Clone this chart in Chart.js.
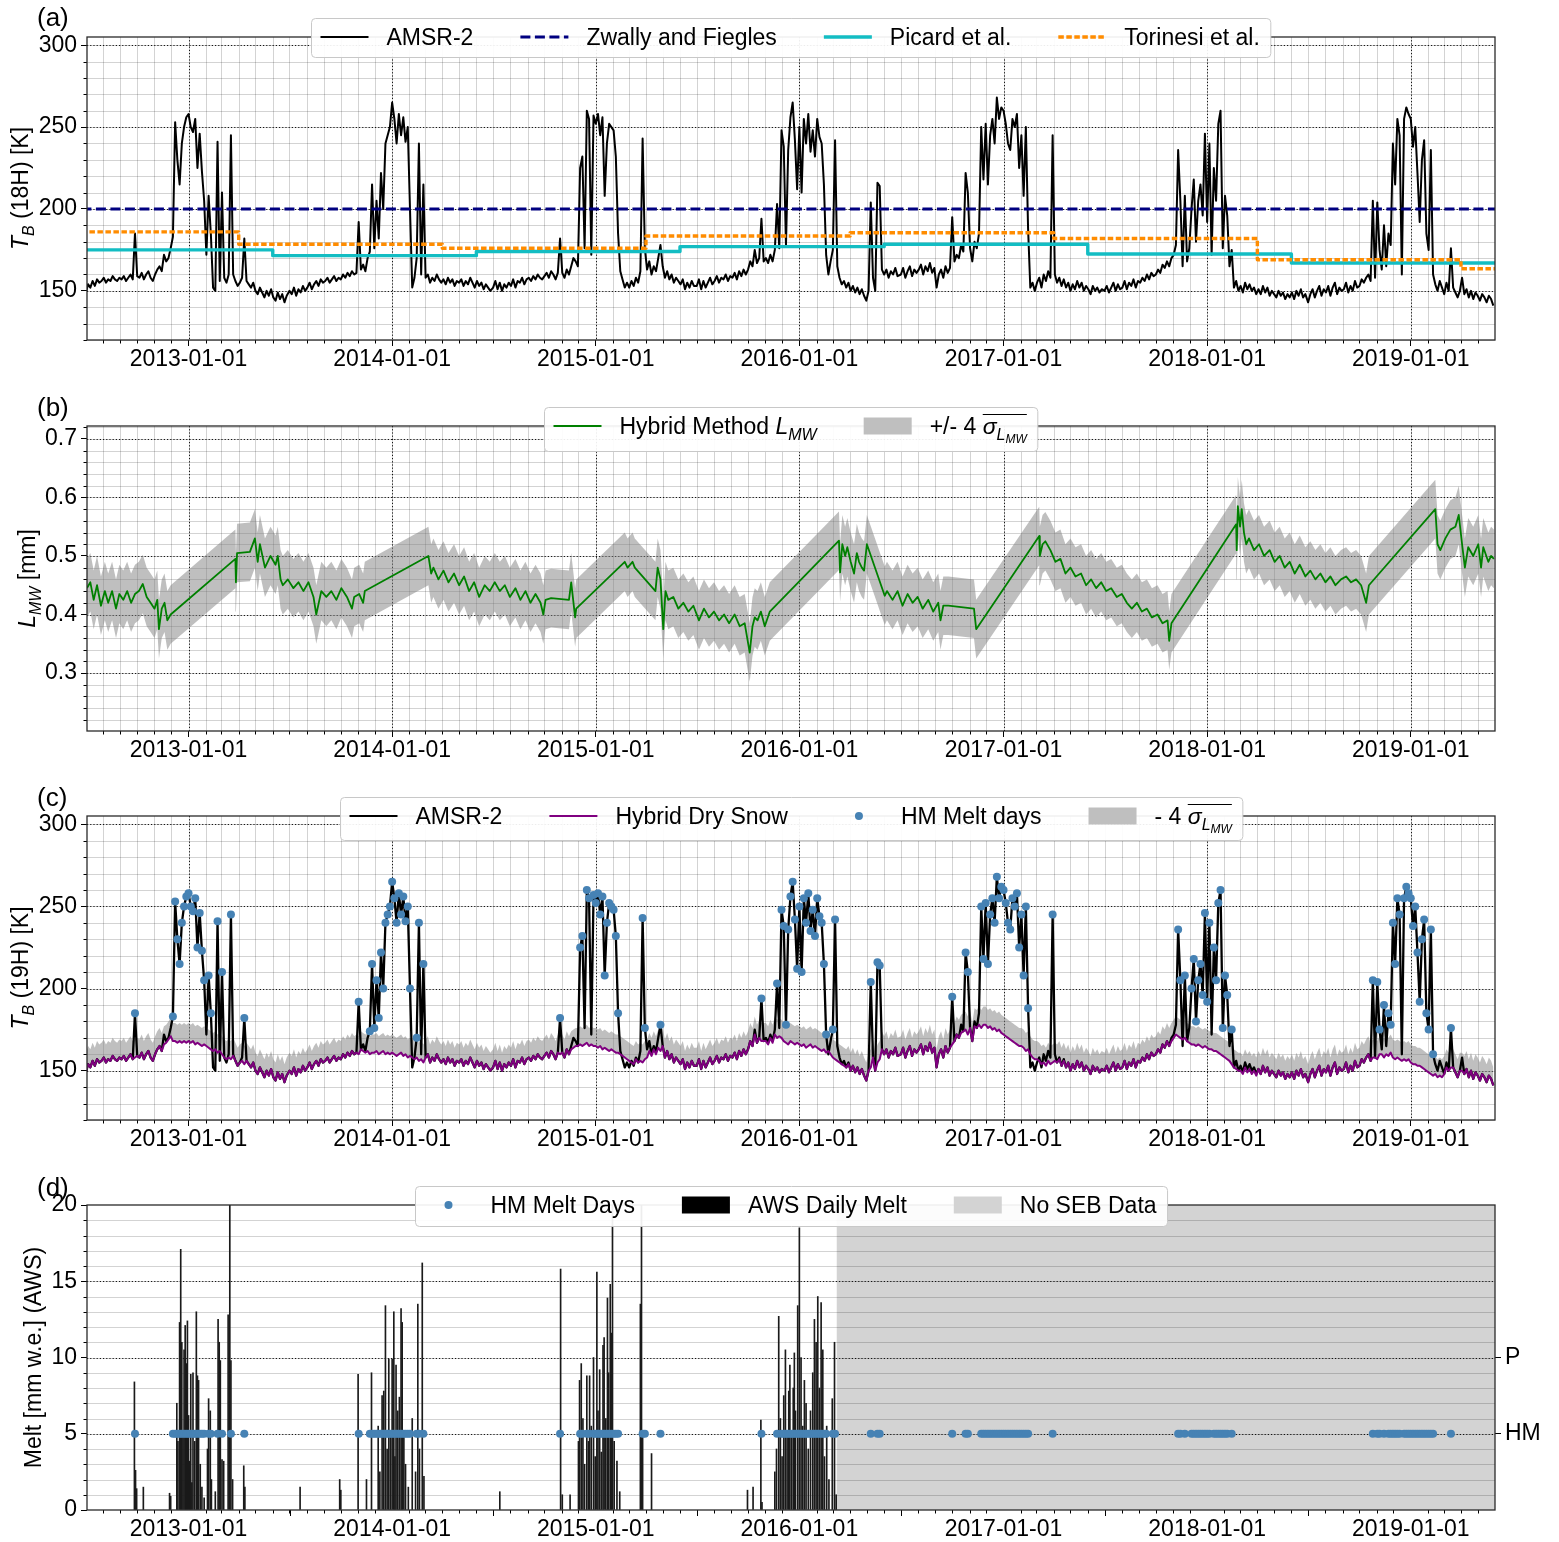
<!DOCTYPE html>
<html>
<head>
<meta charset="utf-8">
<title>AMSR-2 melt detection</title>
<script src="https://cdn.jsdelivr.net/npm/chart.js@4.4.1/dist/chart.umd.min.js"></script>
<style>
  html, body { margin: 0; padding: 0; background: #fff; }
  #wrap { position: relative; width: 1559px; height: 1542px; }
  canvas { position: absolute; left: 0; }
</style>
</head>
<body>
<div id="wrap">
  <canvas id="panelA" width="1559" height="390" style="top:0px"></canvas>
  <canvas id="panelB" width="1559" height="390" style="top:390px"></canvas>
  <canvas id="panelC" width="1559" height="390" style="top:780px"></canvas>
  <canvas id="panelD" width="1559" height="372" style="top:1170px"></canvas>
</div>
<script>
// all x values are days counted from 2012-07-01
const dayZero = Date.UTC(2012, 6, 1);
function dayOf(iso) { return Math.round((Date.parse(iso) - dayZero) / 864e5); }
function isoOf(d) { return new Date(dayZero + d * 864e5).toISOString().slice(0, 10); }

const xFrom = 2, xTo = 2526;
const yearTicks = ['2013-01-01', '2014-01-01', '2015-01-01', '2016-01-01', '2017-01-01', '2018-01-01', '2019-01-01'];
const tbTicks = [150, 200, 250, 300];
const lmwTicks = [0.3, 0.4, 0.5, 0.6, 0.7];
const meltTicks = [0, 5, 10, 15, 20];
const rightTicks = [5, 10];
const rightLabels = ['HM', 'P'];

// AMSR-2 brightness temperature, one value every 4 days, one array per Jul-Jun season
const seasonStart = ['2012-07-01', '2013-07-01', '2014-07-01', '2015-07-01', '2016-07-01', '2017-07-01', '2018-07-01'];
const tbStep = 4;
const tb1213 = [149,154,152,156,153,157,155,156, 158,155,157,156,159,157,156,158, 157,159,156,158,160,157,185,
  159,158,161,157,160,162,158,156, 160,163,165,162,172,168,170, 176,183,253,230,215,240,250,256,
  258,250,247,255,225,246,223,205, 172,208,185,152,150,241,156, 210,158,155,160,245,160,156,153,
  155,158,182,156,154,152,155, 150,148,152,149,146,150,147,151, 146,144,149,145,148,143,147];
const tb1314 = [150,148,152,147,151,149,153,150, 152,155,151,154,156,153,157,155, 156,158,155,157,159,156,158,
  157,160,158,161,159,162,160,161, 192,163,166,162,170,174,215, 176,205,182,222,200,240,245,250,
  265,255,240,258,245,256,241,250, 200,152,158,170,240,160,215, 158,160,155,158,156,160,157,155,
  157,154,158,155,157,153,156, 155,157,153,156,154,158,155,152, 156,153,155,151,154,152,150];
const tb1415 = [152,156,151,155,150,154,152,155, 153,157,152,156,155,158,154,157, 158,156,159,157,160,158,157,
  159,161,158,162,160,157,161,182, 161,158,163,160,165,170,168, 165,225,232,176,260,255,172,257,
  252,258,245,256,208,240,252,250, 248,232,185,162,157,152,155, 152,156,153,158,155,162,243,176,
  163,168,160,165,162,170,178, 165,158,162,157,160,155,158,156, 154,157,151,155,152,156,153];
const tb1516 = [153,157,151,156,152,155,158,154, 156,159,155,158,157,160,156,159, 158,161,157,162,159,163,160,
  163,168,165,175,167,170,194,168, 170,167,172,168,175,203,176, 248,238,178,236,256,265,242,212,
  250,210,255,240,258,235,248,232, 255,244,240,215,172,160,168, 175,242,165,158,154,156,152,155,
  150,153,149,152,148,151,147, 144,150,204,158,150,216,214,163, 160,163,158,162,160,164,159];
const tb1617 = [160,164,158,162,165,159,163,161, 163,166,160,165,162,167,161,164, 152,160,163,158,165,161,164,
  195,168,172,170,178,174,222,210, 176,168,180,176,185,250,218, 252,215,245,255,240,268,255,262,
  260,252,240,236,255,250,258,225, 245,208,250,188,152,155,150, 155,158,152,160,156,162,158,245,
  160,155,158,153,157,152,155, 150,154,151,156,152,155,150,153, 151,148,153,150,152,149,151];
const tb1718 = [150,153,149,152,155,150,154,151, 152,156,151,155,153,157,152,156, 155,158,156,160,157,161,159,
  160,163,161,166,164,168,165,170, 172,178,236,205,165,208,168, 176,200,218,180,205,215,196,246,
  192,240,172,225,205,252,260,176, 208,196,165,175,152,156,150, 153,149,155,151,154,150,152,148,
  151,148,153,149,152,147,150, 148,146,150,147,149,145,148,146, 149,145,150,147,151,146,148];
const tb1819 = [143,148,151,146,150,153,147,151, 149,153,147,152,155,148,152,150, 151,155,149,153,150,156,152,
  153,157,155,158,160,156,205,158, 204,175,163,190,165,185,178, 240,215,255,245,160,255,262,258,
  255,238,250,222,192,230,242,185, 175,236,160,154,150,156,152, 148,155,150,176,152,149,146,150,
  158,148,151,146,150,145,149, 147,144,148,146,143,147,145,141];

// Hybrid dry-snow brightness temperature on the same days
const dry1213 = [149,154,152,156,153,157,155,156, 158,155,157,156,159,157,156,158, 157,159,156,158,160,157,158,
  159,158,161,157,160,162,158,156, 160,163,165,162,166,167,169, 171,168,168,167,168,167,168,167,
  168,167,168,166,167,166,165,166, 165,164,163,162,163,161,162, 160,158,157,158,157,159,156,153,
  155,156,154,156,154,152,155, 150,148,152,149,146,150,147,151, 146,144,149,145,148,143,147];
const dry1314 = [150,148,152,147,151,149,153,150, 152,155,151,154,156,153,157,155, 156,158,155,157,159,156,158,
  157,160,158,161,159,162,160,161, 160,163,162,161,162,160,161, 161,162,160,161,162,160,161,160,
  161,160,159,160,161,159,160,158, 159,158,157,158,156,157,155, 158,160,155,158,156,160,157,155,
  157,154,158,155,157,153,156, 155,157,153,156,154,158,155,152, 156,153,155,151,154,152,150];
const dry1415 = [152,156,151,155,150,154,152,155, 153,157,152,156,155,158,154,157, 158,156,159,157,160,158,157,
  159,161,158,162,160,157,161,160, 161,158,163,160,163,164,165, 165,166,165,166,167,165,166,165,
  165,164,165,163,164,163,162,163, 162,161,161,160,159,158,157, 156,155,154,157,155,156,155,157,
  158,162,159,163,160,164,162, 165,158,162,157,160,155,158,156, 154,157,151,155,152,156,153];
const dry1516 = [153,157,151,156,152,155,158,154, 156,159,155,158,157,160,156,159, 158,161,157,162,159,163,160,
  163,168,165,172,167,170,168,168, 168,166,170,167,172,170,171, 170,168,167,166,168,167,166,167,
  166,165,166,164,165,166,164,165, 164,163,162,163,161,162,160, 158,157,156,155,154,153,152,154,
  150,153,149,152,148,151,147, 144,150,152,158,150,155,157,163, 160,163,158,162,160,164,159];
const dry1617 = [160,164,158,162,165,159,163,161, 163,166,160,165,162,167,161,164, 152,160,163,158,165,161,164,
  166,168,172,170,173,174,175,172, 176,168,177,176,178,176,178, 178,176,177,175,176,174,175,173,
  172,171,170,169,168,167,166,165, 165,164,162,163,160,158,157, 157,156,154,155,153,156,154,155,
  156,155,157,153,156,152,155, 150,154,151,156,152,155,150,153, 151,148,153,150,152,149,151];
const dry1718 = [150,153,149,152,155,150,154,151, 152,156,151,155,153,157,152,156, 155,158,156,160,157,161,159,
  160,163,161,166,164,168,165,168, 170,172,171,170,169,170,168, 167,166,166,165,166,165,164,165,
  164,163,163,162,162,161,160,159, 158,157,156,154,152,151,150, 150,148,152,149,151,148,150,147,
  151,148,153,149,152,147,150, 148,146,150,147,149,145,148,146, 149,145,150,147,151,146,148];
const dry1819 = [143,148,151,146,150,153,147,151, 149,153,147,152,155,148,152,150, 151,155,149,153,150,156,152,
  153,157,155,158,160,156,158,158, 157,160,160,158,160,159,161, 158,157,158,157,156,157,156,157,
  155,154,154,153,153,152,151,150, 149,148,147,148,146,147,146, 148,152,150,152,152,149,146,150,
  150,148,151,146,150,145,149, 147,144,148,146,143,147,145,141];
const sigma4Tb = 11;   // K, 4 x mean sigma in brightness temperature

// threshold methods of panel (a)
const zwallyLevel = 200;
const picardSteps = ['2013-06-01', '2014-06-01', '2015-06-01', '2016-06-01', '2017-06-01', '2018-06-01'];
const picardLevels = [175, 171.5, 174, 177, 178.5, 172.5, 167];
const torinesiSteps = ['2013-04-01', '2014-04-01', '2015-04-01', '2016-04-01', '2017-04-01', '2018-04-01', '2019-04-01'];
const torinesiLevels = [186, 178.5, 176, 183.5, 185.5, 182, 169, 163.5];

// Hybrid Method L_MW [mm]
const lmwDays = [
  2,8,14,20,27,34,40,47,54,60,67,74,81,88,95,102,109,116,123,128,131,136,141,146,152,
  268,269,271,294,303,308,312,321,331,340,344,349,353,362,372,381,390,399,408,413,422,431,440,449,458,468,477,481,490,497,500,
  614,619,623,632,641,650,660,669,678,687,696,705,715,724,733,742,751,760,770,779,788,797,806,815,820,824,834,866,870,877,879,
  966,971,980,984,1021,1025,1030,1035,1039,1044,1053,1062,1071,1080,1089,1099,1108,1117,1126,1135,1144,1153,1163,1172,1181,1190,1195,1199,1204,1210,1217,1226,
  1350,1352,1356,1361,1365,1371,1377,1382,1386,1391,1395,1400,1432,1436,1446,1455,1464,1473,1482,1491,1500,1510,1519,1528,1532,1537,1546,1592,1596,
  1709,1710,1715,1720,1729,1738,1747,1756,1765,1774,1784,1793,1802,1811,1820,1829,1838,1848,1857,1866,1875,1884,1893,1902,1911,1921,1930,1939,1942,1946,
  2062,2063,2065,2069,2072,2076,2080,2085,2094,2103,2112,2122,2131,2140,2149,2158,2167,2176,2186,2195,2204,2213,2222,2231,2240,2250,2259,2268,2277,2286,2295,2300,
  2419,2423,2428,2437,2446,2455,2461,2467,2472,2478,2487,2496,2501,2505,2514,2519,2524];
const lmwVals = [
  .445,.455,.425,.45,.415,.44,.42,.44,.41,.435,.425,.44,.42,.435,.44,.452,.43,.42,.41,.425,.375,.41,.42,.39,.40,
  .495,.455,.505,.507,.53,.49,.52,.48,.50,.485,.50,.46,.45,.46,.445,.455,.44,.455,.43,.40,.44,.43,.44,.425,.445,.43,.41,.43,.435,.42,.44,
  .50,.47,.48,.46,.475,.455,.47,.45,.465,.44,.455,.43,.45,.44,.455,.44,.45,.43,.445,.425,.44,.42,.435,.42,.40,.425,.428,.425,.455,.395,.41,
  .49,.48,.49,.48,.44,.48,.46,.375,.44,.425,.43,.41,.42,.405,.415,.39,.41,.395,.405,.39,.40,.385,.40,.38,.385,.335,.38,.395,.39,.405,.38,.405,
  .526,.472,.52,.50,.515,.49,.47,.505,.49,.48,.475,.52,.432,.44,.425,.44,.415,.435,.42,.43,.41,.425,.405,.42,.39,.415,.415,.41,.375,
  .534,.50,.52,.525,.51,.49,.495,.47,.48,.465,.47,.45,.46,.445,.455,.44,.445,.43,.435,.42,.41,.42,.405,.41,.395,.40,.385,.39,.355,.385,
  .554,.51,.585,.55,.58,.54,.52,.53,.51,.52,.50,.51,.49,.50,.48,.49,.47,.485,.465,.475,.46,.47,.455,.465,.45,.46,.465,.455,.46,.45,.42,.45,
  .58,.52,.51,.53,.545,.55,.57,.52,.48,.515,.50,.52,.48,.515,.49,.50,.495];
const sigma4Lmw = 0.05;

// AWS daily melt [mm w.e.]
const awsDays = [
  87,89,91,103,150,152,163,165,168,170,172,174,176,178,180,182,184,186,188,190,192,195,198,200,202,205,208,212,218,220,223,225,232,237,239,241,244,247,255,258,260,263,283,285,
  384,455,457,488,503,512,524,527,531,534,537,540,543,546,549,552,554,556,559,562,565,567,570,573,578,585,591,595,598,603,606,
  742,851,854,868,883,885,888,891,894,898,901,903,906,910,913,916,918,921,924,927,929,932,935,937,940,942,944,947,952,957,994,996,998,1014,
  1186,1196,1210,1212,1235,1238,1242,1245,1248,1251,1254,1257,1260,1262,1265,1268,1270,1272,1276,1279,1282,1285,1288,1291,1295,1299,1303,1306,1309,1312,1315,1318,1321,1324,1328,1332,1338,1342,1345];
const awsMelt = [
  8.4,2.6,1.4,1.5,1.1,0.9,7.0,4.5,12.3,17.1,11.0,5.0,10.5,12.1,9.6,12.4,6.2,3.2,8.9,1.8,9.0,4.5,13.0,8.8,8.5,3.0,1.5,0.8,4.0,7.3,6.5,2.0,1.2,12.5,11.0,9.8,3.3,3.2,12.8,20,9.8,2.0,2.9,1.5,
  1.5,2.0,1.3,8.9,2.0,9.0,5.5,2.5,7.5,7.8,13.4,4.0,9.9,5.2,9.9,13.0,3.5,9.5,6.5,7.4,13.2,12.3,5.0,3.0,1.5,6.0,2.5,13.5,4.0,16.2,2.2,
  1.2,15.8,1.0,1.0,4.5,8.5,9.6,6.0,3.0,8.8,4.5,8.8,5.5,10.0,3.5,15.6,6.5,9.2,3.8,10.8,11.3,6.0,13.9,9.0,14.8,11.6,20,4.5,3.2,1.2,13.5,20,5.0,3.7,
  1.3,1.5,5.9,0.5,2.5,4.0,12.7,6.0,3.5,7.5,10.5,5.0,7.8,9.5,4.8,8.0,10.3,6.5,13.4,18.5,10.0,5.5,8.5,7.0,4.0,6.5,9.0,12.5,11.0,14.0,8.0,13.6,10.5,3.5,5.5,2.0,7.3,11.0,1.0];
const noSebFrom = '2016-03-08';
const hmLevel = 5;

// ---- build point lists ----
const tbSeasons = [tb1213, tb1314, tb1415, tb1516, tb1617, tb1718, tb1819];
const drySeasons = [dry1213, dry1314, dry1415, dry1516, dry1617, dry1718, dry1819];
const tbPts = [], dryPts = [], meltDays = [], meltTb = [];
seasonStart.forEach((s, i) => {
  const d0 = dayOf(s);
  tbSeasons[i].forEach((v, k) => {
    const x = d0 + tbStep * k, dv = drySeasons[i][k];
    tbPts.push({x, y: v});
    dryPts.push({x, y: dv});
    if (v - dv >= sigma4Tb) { meltDays.push(x); meltTb.push(v); }
  });
});
function stepPts(changes, levels) {
  const pts = [{x: xFrom - 10, y: levels[0]}];
  changes.forEach((c, i) => pts.push({x: dayOf(c), y: levels[i + 1]}));
  pts.push({x: xTo + 10, y: levels[levels.length - 1]});
  return pts;
}
const copy = a => a.map(p => ({x: p.x, y: p.y}));

const yearDays = yearTicks.map(dayOf);
const monthDays = [];
for (let yr = 2012; yr <= 2019; yr++) for (let m = 0; m < 12; m++) {
  const d = Math.round((Date.UTC(yr, m, 1) - dayZero) / 864e5);
  if (d > xFrom && d < xTo) monthDays.push(d);
}
const range = (a, b, s) => { const r = []; for (let i = 0; a + i * s <= b + 1e-9; i++) r.push(+(a + i * s).toFixed(2)); return r; };

// ---- drawing helpers ----
const FONT = "'Liberation Sans', Arial, Helvetica, sans-serif";
const BLUE = '#4682b4', CYAN = '#13bdc3', BAND = 'rgba(128,128,128,0.5)';
Chart.defaults.font.family = FONT;

function partFont(pt) {
  const size = pt.sub === 2 ? 12 : pt.sub ? 16 : 23;
  return (pt.i ? 'italic ' : '') + size + 'px ' + FONT;
}
function richWidth(ctx, parts) {
  return parts.reduce((w, pt) => { ctx.font = partFont(pt); return w + ctx.measureText(pt.t).width; }, 0);
}
function drawRich(ctx, parts, x, base) {
  let o0 = null, o1 = null;
  parts.forEach(pt => {
    ctx.font = partFont(pt);
    const dy = pt.sub === 2 ? 9 : pt.sub ? 6 : 0;
    ctx.fillText(pt.t, x, base + dy);
    const w = ctx.measureText(pt.t).width;
    if (pt.over) { if (o0 === null) o0 = x; o1 = x + w; }
    x += w;
  });
  if (o0 !== null) {
    ctx.beginPath(); ctx.lineWidth = 1.2; ctx.strokeStyle = '#000';
    ctx.moveTo(o0, base - 19.5); ctx.lineTo(o1, base - 19.5); ctx.stroke();
  }
}
function drawHandle(ctx, h, x, cy) {
  ctx.save();
  if (h.kind === 'line') {
    ctx.strokeStyle = h.color; ctx.lineWidth = h.width; ctx.setLineDash(h.dash || []);
    ctx.beginPath(); ctx.moveTo(x, cy); ctx.lineTo(x + 48, cy); ctx.stroke();
  } else if (h.kind === 'dot') {
    ctx.fillStyle = h.color; ctx.beginPath(); ctx.arc(x + 24, cy, 4, 0, 2 * Math.PI); ctx.fill();
  } else {
    ctx.fillStyle = h.color; ctx.fillRect(x, cy - 8.5, 48, 17);
  }
  ctx.restore();
}
function drawLegend(ctx, items, cx, top, h) {
  const widths = items.map(it => richWidth(ctx, it.label));
  const total = 20 + items.reduce((s, it, i) => s + 66 + widths[i], 0) + 47 * (items.length - 1);
  const left = Math.round(cx - total / 2) + 0.5;
  ctx.save();
  ctx.fillStyle = 'rgba(255,255,255,0.92)'; ctx.strokeStyle = '#c8c8c8'; ctx.lineWidth = 1;
  ctx.beginPath();
  if (ctx.roundRect) ctx.roundRect(left, top + 0.5, total, h, 4); else ctx.rect(left, top + 0.5, total, h);
  ctx.fill(); ctx.stroke();
  const cy = top + 19;
  let hx = left + 9;
  ctx.textAlign = 'left'; ctx.textBaseline = 'alphabetic';
  items.forEach((it, i) => {
    drawHandle(ctx, it, hx, cy);
    ctx.fillStyle = '#000';
    drawRich(ctx, it.label, hx + 66, cy + 8);
    hx += 66 + widths[i] + 47;
  });
  ctx.restore();
}
function drawRotated(ctx, parts, cx, cy) {
  const w = richWidth(ctx, parts);
  ctx.save();
  ctx.translate(cx, cy); ctx.rotate(-Math.PI / 2);
  ctx.fillStyle = '#000'; ctx.textAlign = 'left'; ctx.textBaseline = 'alphabetic';
  drawRich(ctx, parts, -w / 2, 8);
  ctx.restore();
}

function decor(p) {
  return {
    id: 'decor',
    beforeDatasetsDraw(chart) {
      const {ctx, chartArea: a} = chart, x = chart.scales.x, y = chart.scales.y;
      ctx.save();
      if (p.span) {
        const x0 = x.getPixelForValue(dayOf(p.span));
        ctx.fillStyle = '#d3d3d3';
        ctx.fillRect(x0, a.top, a.right - x0, a.bottom - a.top);
      }
      ctx.lineWidth = 0.8; ctx.strokeStyle = 'rgba(0,0,0,0.22)';
      ctx.beginPath();
      if (p.vgrid) monthDays.forEach(d => {
        const px = Math.round(x.getPixelForValue(d)) + 0.5;
        ctx.moveTo(px, a.top); ctx.lineTo(px, a.bottom);
      });
      p.yMinor.forEach(v => {
        const py = Math.round(y.getPixelForValue(v)) + 0.5;
        ctx.moveTo(a.left, py); ctx.lineTo(a.right, py);
      });
      ctx.stroke();
      ctx.strokeStyle = '#000'; ctx.lineWidth = 0.9; ctx.setLineDash([1.2, 2]);
      ctx.beginPath();
      if (p.vgrid) yearDays.forEach(d => {
        const px = Math.round(x.getPixelForValue(d)) + 0.5;
        ctx.moveTo(px, a.top); ctx.lineTo(px, a.bottom);
      });
      p.yMajor.forEach(v => {
        const py = Math.round(y.getPixelForValue(v)) + 0.5;
        if (py > a.top + 2 && py < a.bottom - 2) { ctx.moveTo(a.left, py); ctx.lineTo(a.right, py); }
      });
      ctx.stroke();
      ctx.restore();
    },
    afterDraw(chart) {
      const {ctx, chartArea: a} = chart, x = chart.scales.x, y = chart.scales.y;
      ctx.save();
      ctx.strokeStyle = '#000'; ctx.lineWidth = 1;
      ctx.beginPath();
      monthDays.forEach(d => {
        if (yearDays.includes(d)) return;
        const px = Math.round(x.getPixelForValue(d)) + 0.5;
        ctx.moveTo(px, a.bottom); ctx.lineTo(px, a.bottom + 3.5);
      });
      p.yMinor.forEach(v => {
        if (p.yMajor.includes(v)) return;
        const py = Math.round(y.getPixelForValue(v)) + 0.5;
        ctx.moveTo(a.left, py); ctx.lineTo(a.left - 3.5, py);
      });
      ctx.stroke();
      ctx.strokeStyle = '#2a2a2a'; ctx.lineWidth = 1.3;
      ctx.strokeRect(a.left, a.top, a.right - a.left, a.bottom - a.top);
      drawLegend(ctx, p.legend, (a.left + a.right) / 2, a.top - 19, p.legendH);
      ctx.fillStyle = '#000'; ctx.font = '26px ' + FONT; ctx.textAlign = 'left'; ctx.textBaseline = 'middle';
      ctx.fillText(p.tag, 37, 19);
      drawRotated(ctx, p.title, p.titleX, (a.top + a.bottom) / 2);
      ctx.restore();
    }
  };
}

function makePanel(id, p, datasets) {
  const canvas = document.getElementById(id);
  const H = canvas.height;
  const tickFont = {family: FONT, size: 23};
  const scales = {
    x: {
      type: 'linear', min: xFrom, max: xTo, offset: false,
      afterBuildTicks: s => { s.ticks = yearDays.map(v => ({value: v})); },
      afterFit: s => { s.height = H - p.bottom; },
      ticks: {callback: v => isoOf(v), font: tickFont, color: '#000', maxRotation: 0, autoSkip: false, padding: 0},
      grid: {drawOnChartArea: false, tickLength: 6, color: '#000', lineWidth: 1},
      border: {display: false}
    },
    y: {
      type: 'linear', min: p.yMin, max: p.yMax,
      afterBuildTicks: s => { s.ticks = p.yMajor.map(v => ({value: v})); },
      afterFit: s => { s.width = 87; },
      ticks: {callback: v => String(v), font: tickFont, color: '#000', autoSkip: false, padding: 4},
      grid: {drawOnChartArea: false, tickLength: 6, color: '#000', lineWidth: 1},
      border: {display: false}
    }
  };
  if (p.right) {
    scales.y2 = {
      type: 'linear', position: 'right', min: p.yMin, max: p.yMax,
      afterBuildTicks: s => { s.ticks = rightTicks.map(v => ({value: v})); },
      afterFit: s => { s.width = 64; },
      ticks: {callback: v => rightLabels[rightTicks.indexOf(v)], font: tickFont, color: '#000', autoSkip: false, padding: 4},
      grid: {drawOnChartArea: false, tickLength: 6, color: '#000', lineWidth: 1},
      border: {display: false}
    };
  }
  return new Chart(canvas, {
    type: 'line',
    data: {datasets},
    options: {
      responsive: false, animation: false, events: [], devicePixelRatio: 1, parsing: false,
      layout: {padding: {top: p.top, right: p.right ? 0 : 64, left: 0, bottom: 0}},
      elements: {point: {radius: 0}, line: {tension: 0, fill: false, borderJoinStyle: 'round'}},
      plugins: {legend: {display: false}, tooltip: {enabled: false}},
      scales
    },
    plugins: [decor(p)]
  });
}

const tbMinor = range(120, 300, 10);
const T_title = ch => [{t: 'T', i: 1}, {t: 'B', i: 1, sub: 1}, {t: ' (' + ch + ') [K]'}];
const sigmaBar = [{t: 'σ', i: 1, over: 1}, {t: 'L', i: 1, sub: 1, over: 1}, {t: 'MW', i: 1, sub: 2, over: 1}];

// (a)
makePanel('panelA', {
  top: 37, bottom: 340, yMin: 120, yMax: 305, yMajor: tbTicks, yMinor: tbMinor, vgrid: true,
  tag: '(a)', title: T_title('18H'), titleX: 20, legendH: 39,
  legend: [
    {kind: 'line', color: '#000', width: 2, label: [{t: 'AMSR-2'}]},
    {kind: 'line', color: '#000080', width: 3, dash: [10, 4.5], label: [{t: 'Zwally and Fiegles'}]},
    {kind: 'line', color: CYAN, width: 3.4, label: [{t: 'Picard et al.'}]},
    {kind: 'line', color: '#ff8c00', width: 3.4, dash: [5.5, 2.5], label: [{t: 'Torinesi et al.'}]}
  ]
}, [
  {data: copy(tbPts), borderColor: '#000', borderWidth: 2, order: 4},
  {data: [{x: xFrom - 10, y: zwallyLevel}, {x: xTo + 10, y: zwallyLevel}], borderColor: '#000080', borderWidth: 3, borderDash: [10, 4.5], order: 3},
  {data: stepPts(picardSteps, picardLevels), borderColor: CYAN, borderWidth: 3.4, stepped: 'before', order: 2},
  {data: stepPts(torinesiSteps, torinesiLevels), borderColor: '#ff8c00', borderWidth: 3.4, borderDash: [5.5, 2.5], stepped: 'before', order: 1}
]);

// (b)
const lmwPts = lmwDays.map((d, i) => ({x: d, y: lmwVals[i]}));
makePanel('panelB', {
  top: 36, bottom: 341, yMin: 0.201, yMax: 0.722, yMajor: lmwTicks, yMinor: range(0.22, 0.72, 0.02), vgrid: true,
  tag: '(b)', title: [{t: 'L', i: 1}, {t: 'MW', i: 1, sub: 1}, {t: ' [mm]'}], titleX: 27, legendH: 44,
  legend: [
    {kind: 'line', color: '#008000', width: 1.8, label: [{t: 'Hybrid Method '}, {t: 'L', i: 1}, {t: 'MW', i: 1, sub: 1}]},
    {kind: 'patch', color: '#bfbfbf', label: [{t: '+/- 4 '}].concat(sigmaBar)}
  ]
}, [
  {data: lmwPts.map(p => ({x: p.x, y: p.y - sigma4Lmw})), borderColor: 'transparent', borderWidth: 0, order: 3},
  {data: lmwPts.map(p => ({x: p.x, y: p.y + sigma4Lmw})), borderColor: 'transparent', borderWidth: 0, fill: '-1', backgroundColor: BAND, order: 2},
  {data: lmwPts, borderColor: '#008000', borderWidth: 1.8, order: 1}
]);

// (c)
makePanel('panelC', {
  top: 36, bottom: 340, yMin: 120, yMax: 305, yMajor: tbTicks, yMinor: tbMinor, vgrid: true,
  tag: '(c)', title: T_title('19H'), titleX: 20, legendH: 43,
  legend: [
    {kind: 'line', color: '#000', width: 2, label: [{t: 'AMSR-2'}]},
    {kind: 'line', color: '#800080', width: 2, label: [{t: 'Hybrid Dry Snow'}]},
    {kind: 'dot', color: BLUE, label: [{t: 'HM Melt days'}]},
    {kind: 'patch', color: '#bfbfbf', label: [{t: '- 4 '}].concat(sigmaBar)}
  ]
}, [
  {data: copy(dryPts), borderColor: 'transparent', borderWidth: 0, order: 5},
  {data: dryPts.map(p => ({x: p.x, y: p.y + sigma4Tb})), borderColor: 'transparent', borderWidth: 0, fill: '-1', backgroundColor: BAND, order: 4},
  {data: copy(tbPts), borderColor: '#000', borderWidth: 2.3, order: 3},
  {data: copy(dryPts), borderColor: '#800080', borderWidth: 2, order: 2},
  {data: meltDays.map((d, i) => ({x: d, y: meltTb[i]})), showLine: false, pointRadius: 4, pointBackgroundColor: BLUE, pointBorderWidth: 0, order: 1}
]);

// (d)
makePanel('panelD', {
  top: 35, bottom: 340, yMin: 0, yMax: 20, yMajor: meltTicks, yMinor: range(1, 19, 1), vgrid: false, right: true,
  span: noSebFrom, tag: '(d)', title: [{t: 'Melt [mm w.e.] (AWS)'}], titleX: 33, legendH: 40,
  legend: [
    {kind: 'dot', color: BLUE, label: [{t: 'HM Melt Days'}]},
    {kind: 'patch', color: '#000', label: [{t: 'AWS Daily Melt'}]},
    {kind: 'patch', color: '#d3d3d3', label: [{t: 'No SEB Data'}]}
  ]
}, [
  {type: 'bar', data: awsDays.map((d, i) => ({x: d, y: awsMelt[i]})), backgroundColor: '#1a1a1a', borderWidth: 0, barThickness: 1, order: 2},
  {data: meltDays.map(d => ({x: d, y: hmLevel})), showLine: false, pointRadius: 4, pointBackgroundColor: BLUE, pointBorderWidth: 0, order: 1}
]);
</script>
</body>
</html>
